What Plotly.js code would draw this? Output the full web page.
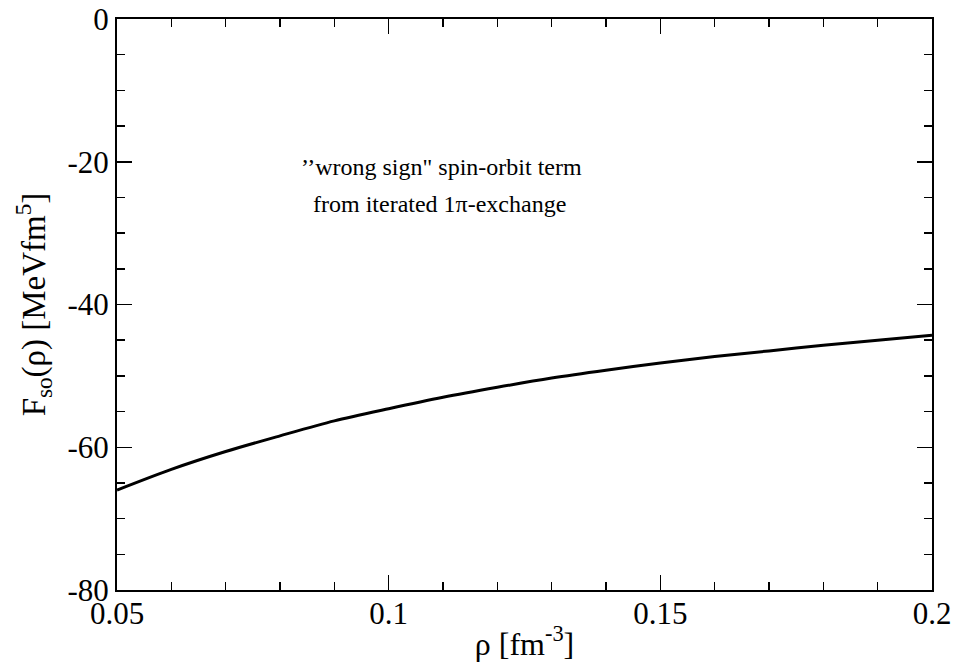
<!DOCTYPE html>
<html>
<head>
<meta charset="utf-8">
<script src="https://cdn.plot.ly/plotly-3.0.1.min.js"></script>
<style>html,body{margin:0;padding:0;background:#fff;}#plot{width:956px;height:668px;}</style>
</head>
<body>
<div id="plot"></div>
<script>
// Density rho [fm^-3]
const rho = [0.05, 0.06, 0.07, 0.08, 0.09, 0.10, 0.11, 0.12, 0.13, 0.14, 0.15, 0.16, 0.17, 0.18, 0.19, 0.20];
// F_so(rho) [MeV fm^5]
const fso = [-66.0, -63.1, -60.6, -58.4, -56.3, -54.6, -53.0, -51.6, -50.3, -49.2, -48.2, -47.3, -46.5, -45.7, -45.0, -44.3];
const xTicks = [0.05, 0.1, 0.15, 0.2];
const xTickLabels = ['0.05', '0.1', '0.15', '0.2'];
const yTicks = [-80, -60, -40, -20, 0];
const yTickLabels = ['-80', '-60', '-40', '-20', '0'];
const noteLines = ["’’wrong sign\" spin-orbit term", "from iterated 1π-exchange"];
const noteX = [0.1097, 0.1093];
const noteY = [-20.7, -25.9];

const font = 'Liberation Serif';
const trace = {
  x: rho, y: fso, type: 'scatter', mode: 'lines',
  line: {color: '#000', width: 3, shape: 'spline', smoothing: 0.8}, showlegend: false, hoverinfo: 'skip'
};
const axisBase = {
  showgrid: false, zeroline: false, showline: true, linecolor: '#000', linewidth: 2,
  mirror: 'allticks', ticks: 'inside', ticklen: 15, tickwidth: 1.5, tickcolor: '#000',
  tickfont: {family: font, size: 31, color: '#000'}
};
const layout = {
  width: 956, height: 668,
  margin: {l: 117, r: 24, t: 19, b: 78},
  paper_bgcolor: '#fff', plot_bgcolor: '#fff',
  font: {family: font, color: '#000'},
  xaxis: Object.assign({}, axisBase, {
    range: [0.05, 0.2], tickmode: 'array', tickvals: xTicks, ticktext: xTickLabels,
    ticklabelstandoff: -5,
    minor: {dtick: 0.01, tick0: 0.05, ticks: 'inside', ticklen: 8, tickwidth: 1.5, tickcolor: '#000'},
    title: {text: 'ρ [fm<sup>-3</sup>]', font: {family: font, size: 32, color: '#000'}, standoff: 2}
  }),
  yaxis: Object.assign({}, axisBase, {
    range: [-80, 0], tickmode: 'array', tickvals: yTicks, ticktext: yTickLabels,
    minor: {dtick: 5, tick0: 0, ticks: 'inside', ticklen: 8, tickwidth: 1.5, tickcolor: '#000'},
    title: {text: 'F<sub>so</sub>(ρ) [MeVfm<sup>5</sup>]', font: {family: font, size: 33, color: '#000'}, standoff: 12}
  }),
  annotations: noteLines.map((t, i) => ({
    x: noteX[i], y: noteY[i], xref: 'x', yref: 'y', showarrow: false,
    text: t, align: 'center',
    font: {family: font, size: 24, color: '#000'}
  }))
};
Plotly.newPlot('plot', [trace], layout, {displayModeBar: false, staticPlot: true});
</script>
</body>
</html>
